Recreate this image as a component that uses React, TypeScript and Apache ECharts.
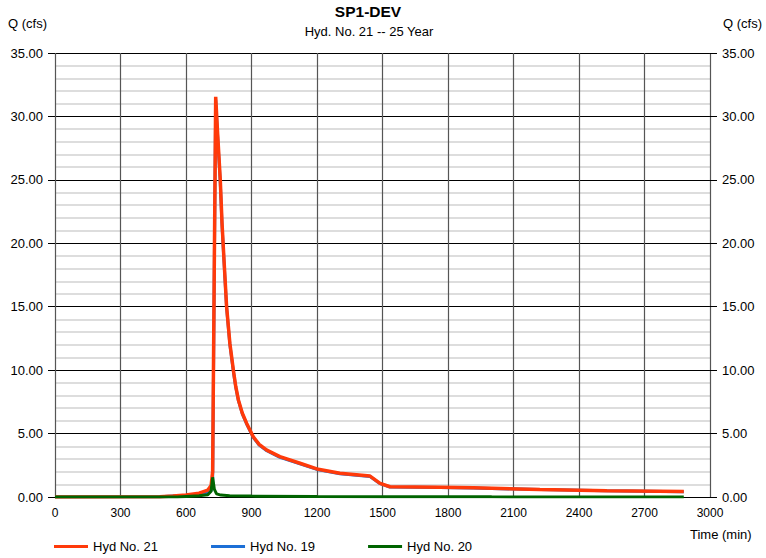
import React, { useEffect, useRef } from "react";
import * as echarts from "echarts";

const chartTitle = "SP1-DEV";
const chartSubtitle = "Hyd. No. 21 -- 25 Year";
const seriesNames = ["Hyd No. 21", "Hyd No. 19", "Hyd No. 20"];

const time21 = [0, 480, 540, 600, 660, 700, 715, 722, 729, 736, 745, 757, 765, 774, 786, 801, 817, 828, 840, 858, 878, 908, 935, 970, 1030, 1122, 1206, 1305, 1443, 1489, 1534, 1763, 1916, 2221, 2527, 2880];
const flow21 = [0, 0.02, 0.08, 0.15, 0.3, 0.55, 0.9, 2.0, 17, 31.55, 28.6, 25, 21.6, 18.7, 15.0, 12.1, 10.0, 8.7, 7.65, 6.6, 5.8, 4.75, 4.15, 3.7, 3.18, 2.66, 2.18, 1.87, 1.65, 1.08, 0.81, 0.77, 0.72, 0.6, 0.5, 0.43];
const flow19 = [0, 0.02, 0.07, 0.12, 0.22, 0.38, 0.5, 1.0, 16.5, 31.3, 28.4, 24.8, 21.4, 18.6, 14.9, 12.0, 9.9, 8.65, 7.6, 6.55, 5.75, 4.7, 4.1, 3.65, 3.13, 2.62, 2.14, 1.84, 1.62, 1.05, 0.79, 0.75, 0.7, 0.59, 0.49, 0.42];

const time20 = [0, 560, 600, 660, 700, 715, 722, 730, 740, 760, 800, 900, 1200, 1500, 2000, 2880];
const flow20 = [0, 0, 0.04, 0.09, 0.18, 0.45, 1.55, 0.6, 0.25, 0.15, 0.1, 0.07, 0.04, 0.02, 0.01, 0];

const xTicks = [0, 300, 600, 900, 1200, 1500, 1800, 2100, 2400, 2700, 3000];
const yMax = 35;

const FONT = "'Liberation Sans', Arial, sans-serif";

function pairs(t: number[], v: number[]) {
  return t.map((x, i) => [x, v[i]]);
}

export default function App() {
  const ref = useRef<HTMLDivElement>(null);
  useEffect(() => {
    if (!ref.current) return;
    const chart = echarts.init(ref.current, null, { renderer: "svg" });
    const yAxisBase = {
      type: "value",
      min: 0,
      max: yMax,
      interval: 5,
      axisLine: { show: false },
      axisTick: { show: true, length: 7, lineStyle: { color: "#000", width: 1 } },
      axisLabel: {
        formatter: (v: number) => v.toFixed(2),
        fontSize: 13,
        fontFamily: FONT,
        color: "#000",
        margin: 12,
      },
    };
    chart.setOption({
      animation: false,
      textStyle: { fontFamily: FONT },
      grid: { left: 55, right: 56, top: 53, bottom: 61, containLabel: false },
      graphic: [
        { type: "text", x: 368, y: 3, style: { text: chartTitle, fontSize: 15.5, fontWeight: "bold", fontFamily: FONT, fill: "#000", align: "center" } },
        { type: "text", x: 369, y: 25, style: { text: chartSubtitle, fontSize: 13, fontFamily: FONT, fill: "#000", align: "center" } },
        { type: "text", x: 8, y: 17, style: { text: "Q (cfs)", fontSize: 13, fontFamily: FONT, fill: "#000" } },
        { type: "text", x: 723, y: 17, style: { text: "Q (cfs)", fontSize: 13, fontFamily: FONT, fill: "#000" } },
        { type: "text", x: 690, y: 528, style: { text: "Time (min)", fontSize: 13, fontFamily: FONT, fill: "#000" } },
      ],
      legend: {
        left: 49,
        top: 535,
        icon: "rect",
        itemWidth: 34,
        itemHeight: 3,
        itemGap: 53,
        textStyle: { fontSize: 13, fontFamily: FONT, color: "#000" },
        data: seriesNames,
      },
      xAxis: {
        type: "value",
        min: 0,
        max: 3000,
        interval: 300,
        axisLine: { show: false },
        axisTick: { show: false },
        axisLabel: {
          fontSize: 12,
          fontFamily: FONT,
          color: "#000",
          margin: 10,
          formatter: (v: number) => String(v),
          customValues: xTicks,
        },
        splitLine: { show: true, lineStyle: { color: "#555", width: 1.2 } },
      },
      yAxis: [
        {
          ...yAxisBase,
          position: "left",
          splitLine: { show: true, lineStyle: { color: "#000", width: 1.2 } },
          minorTick: { show: false, splitNumber: 5 },
          minorSplitLine: { show: true, lineStyle: { color: "#d2d2d2", width: 1.5 } },
        },
        {
          ...yAxisBase,
          position: "right",
          splitLine: { show: false },
        },
      ],
      series: [
        {
          name: seriesNames[0],
          type: "line",
          data: pairs(time21, flow21),
          showSymbol: false,
          symbol: "none",
          z: 3,
          lineStyle: { color: "#ff3a0a", width: 3.5 },
          itemStyle: { color: "#ff3a0a" },
        },
        {
          name: seriesNames[1],
          type: "line",
          data: pairs(time21, flow19),
          showSymbol: false,
          symbol: "none",
          z: 2,
          lineStyle: { color: "#1c6fd6", width: 3 },
          itemStyle: { color: "#1c6fd6" },
        },
        {
          name: seriesNames[2],
          type: "line",
          data: pairs(time20, flow20),
          showSymbol: false,
          symbol: "none",
          z: 4,
          lineStyle: { color: "#006400", width: 3 },
          itemStyle: { color: "#006400" },
        },
      ],
    });
    return () => chart.dispose();
  }, []);
  return (
    <div
      ref={ref}
      style={{ position: "fixed", left: 0, top: 0, width: 766, height: 558, background: "#fff" }}
    />
  );
}
